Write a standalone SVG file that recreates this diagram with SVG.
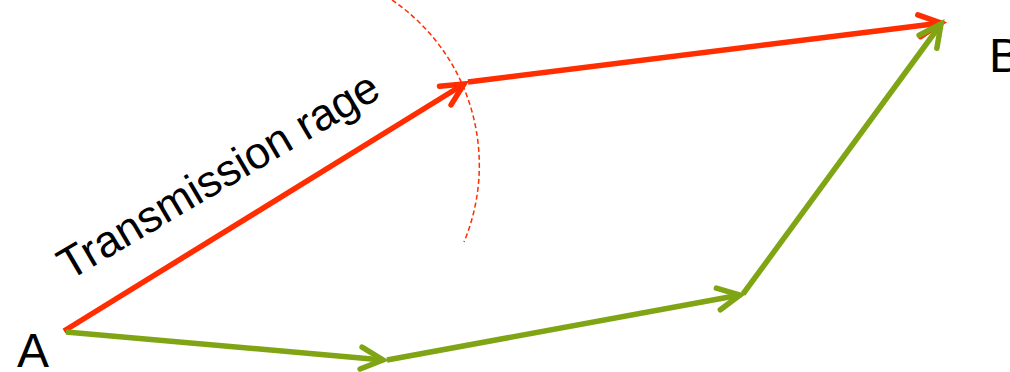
<svg xmlns="http://www.w3.org/2000/svg" width="1010" height="372" viewBox="0 0 1010 372">
<style>
.lbl{font-family:"Liberation Sans",Arial,sans-serif;fill:#000}
.red{stroke:#ff2d00;stroke-width:5.5;fill:none}
.grn{stroke:#7fa514;stroke-width:5.5;fill:none}
</style>
<defs>
<marker id="ar" markerUnits="userSpaceOnUse" markerWidth="40" markerHeight="40" viewBox="-30 -20 40 40" refX="0" refY="0" orient="auto">
<path d="M-22,-11 L0,0 L-22,11" fill="none" stroke="#ff2d00" stroke-width="5.5" stroke-linecap="round" stroke-linejoin="miter"/>
</marker>
<marker id="ag" markerUnits="userSpaceOnUse" markerWidth="40" markerHeight="40" viewBox="-30 -20 40 40" refX="0" refY="0" orient="auto">
<path d="M-22,-11 L0,0 L-22,11" fill="none" stroke="#7fa514" stroke-width="5.5" stroke-linecap="round" stroke-linejoin="miter"/>
</marker>
</defs>
<rect width="1010" height="372" fill="#fff"/>
<g id="range">
<path d="M392,0 A200,200 0 0 1 464,242" fill="none" stroke="#ff2d00" stroke-width="1.5" stroke-dasharray="5,3"/>
</g>
<g id="connectors">
<path class="red" d="M64,331 L464,84" marker-end="url(#ar)"/>
<path class="red" d="M468,82 L941,23" marker-end="url(#ar)"/>
<path class="grn" d="M66,332 L383,360" marker-end="url(#ag)"/>
<path class="grn" d="M387,360 L740,295" marker-end="url(#ag)"/>
<path class="grn" d="M743,294 L941,24" marker-end="url(#ag)"/>
</g>
<g id="label-range">
<text class="lbl" font-size="44.5" transform="translate(69,281) rotate(-30.5)">Transmission rage</text>
</g>
<g id="node-A"><text class="lbl" x="17" y="367" font-size="48">A</text></g>
<g id="node-B"><text class="lbl" x="989" y="72" font-size="48">B</text></g>
</svg>
